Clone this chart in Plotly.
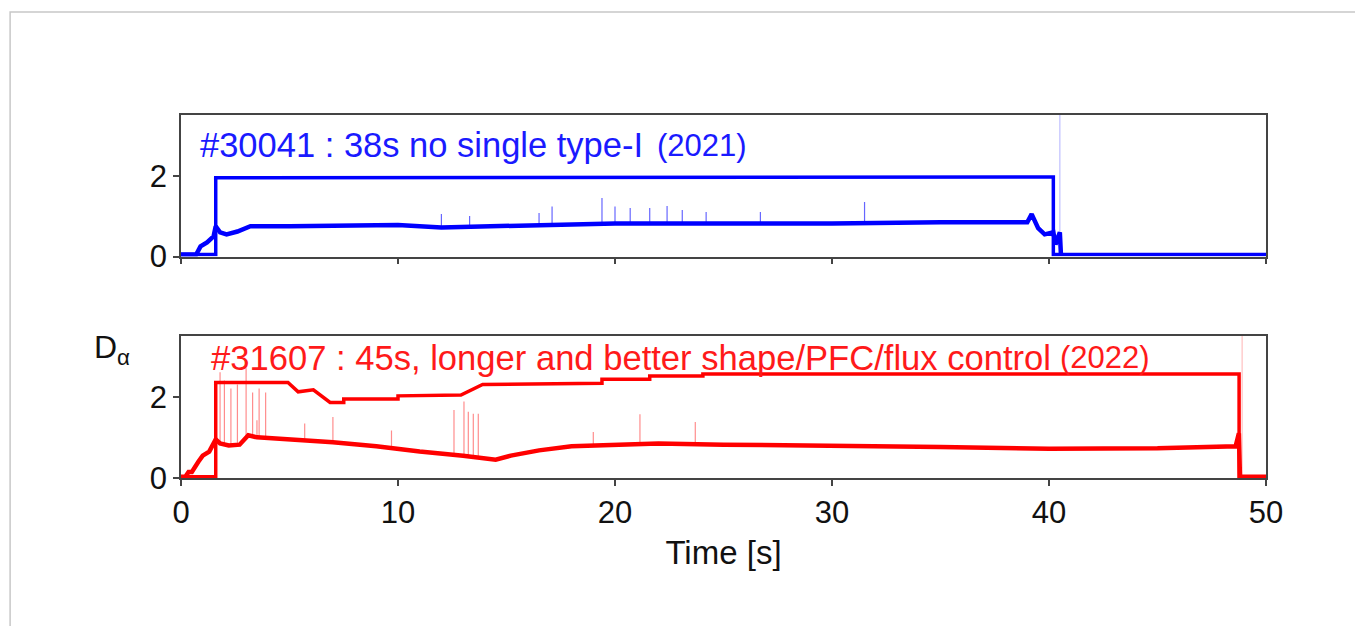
import plotly.graph_objects as go

# ---------------- data ----------------
# Top panel: shot #30041 (blue)
top_step_t = [0, 1.6, 1.6, 2.5, 2.5, 40.2, 40.2, 50]
top_step_v = [0.05, 0.05, 1.95, 1.95, 1.97, 1.97, 0.05, 0.05]

top_da_t = [0, 0.7, 0.9, 1.2, 1.5, 1.6, 1.8, 2.1, 2.6, 3.2, 5, 8, 10, 12, 15, 18, 20, 25, 30, 35,
            38.5, 39.0, 39.2, 39.5, 39.8, 40.2, 40.3, 40.45, 40.5, 40.55]
top_da_v = [0.05, 0.05, 0.25, 0.35, 0.5, 0.75, 0.6, 0.55, 0.62, 0.75, 0.75, 0.78, 0.78, 0.72, 0.75, 0.8, 0.82, 0.82, 0.82, 0.85,
            0.87, 0.85, 1.05, 0.7, 0.55, 0.6, 0.3, 0.55, 0.6, 0.05]

top_spike_t = [12.0, 13.3, 16.5, 17.1, 19.4, 20.0, 20.7, 21.6, 22.4, 23.1, 24.2, 26.7, 31.5]
top_spike_peak = [1.05, 1.0, 1.08, 1.24, 1.45, 1.24, 1.2, 1.2, 1.25, 1.15, 1.1, 1.1, 1.35]
top_spike_base = [0.72, 0.72, 0.76, 0.78, 0.8, 0.82, 0.82, 0.82, 0.82, 0.82, 0.82, 0.82, 0.83]

top_faint_t = [40.5]
top_faint_peak = [3.6]
top_faint_base = [0.6]

# Bottom panel: shot #31607 (red)
bot_step_t = [0, 1.6, 1.6, 4.93, 5.4, 6.1, 6.87, 7.5, 7.5, 10.0, 10.0, 12.9, 13.9, 19.4, 19.4,
              21.6, 21.6, 24.05, 24.05, 48.76, 48.76, 50]
bot_step_v = [0.03, 0.03, 2.35, 2.35, 2.12, 2.17, 1.86, 1.86, 1.94, 1.94, 2.02, 2.04, 2.3, 2.33, 2.43,
              2.43, 2.51, 2.51, 2.56, 2.56, 0.03, 0.03]

bot_da_t = [0, 0.2, 0.35, 0.5, 0.8, 1.0, 1.3, 1.6, 1.8, 2.2, 2.7, 3.1, 3.5, 5, 7, 9, 11, 13, 14.5,
            15.2, 16.5, 18, 20, 22, 25, 30, 35, 40, 45, 48.6, 48.75, 48.8, 50]
bot_da_v = [0.03, 0.03, 0.15, 0.15, 0.4, 0.55, 0.65, 0.95, 0.85, 0.8, 0.82, 1.05, 1.0, 0.95, 0.88, 0.78, 0.65, 0.55, 0.45,
            0.55, 0.68, 0.78, 0.82, 0.85, 0.82, 0.8, 0.76, 0.72, 0.73, 0.78, 1.1, 0.03, 0.03]

bot_spike_t = [1.8, 2.0, 2.3, 2.6, 3.0, 3.3, 3.6, 3.9, 3.5, 5.7, 7.0, 9.7,
               12.58, 13.04, 13.24, 13.47, 13.7, 19.0, 21.15, 23.7]
bot_spike_peak = [2.6, 2.4, 2.2, 2.3, 2.7, 2.1, 2.2, 2.1, 1.42, 1.34, 1.5, 1.17,
                  1.67, 1.88, 1.63, 1.58, 1.58, 1.13, 1.57, 1.38]
bot_spike_base = [0.85, 0.8, 0.8, 0.82, 1.0, 1.0, 1.0, 1.0, 1.0, 0.93, 0.88, 0.75,
                  0.58, 0.55, 0.53, 0.52, 0.5, 0.8, 0.84, 0.84]

bot_faint_t = [48.9]
bot_faint_peak = [3.6]
bot_faint_base = [0.03]

x_ticks = [0, 10, 20, 30, 40, 50]
y_ticks = [0, 2]

top_label = "#30041 : 38s no single type-I"
top_year = "(2021)"
bot_label = "#31607 : 45s, longer and better shape/PFC/flux control"
bot_year = "(2022)"

BLUE = "#0000ff"
RED = "#ff0000"


def spikes(ts, peaks, bases):
    xs, ys = [], []
    for t, p, b in zip(ts, peaks, bases):
        xs += [t, t, None]
        ys += [b, p, None]
    return xs, ys


fig = go.Figure()

# top panel traces
sx, sy = spikes(top_faint_t, top_faint_peak, top_faint_base)
fig.add_trace(go.Scatter(x=sx, y=sy, mode="lines", line=dict(color="rgba(0,0,255,0.25)", width=1.2),
                         xaxis="x2", yaxis="y2", hoverinfo="skip"))
sx, sy = spikes(top_spike_t, top_spike_peak, top_spike_base)
fig.add_trace(go.Scatter(x=sx, y=sy, mode="lines", line=dict(color="rgba(0,0,255,0.6)", width=1.2),
                         xaxis="x2", yaxis="y2", hoverinfo="skip"))
fig.add_trace(go.Scatter(x=top_da_t, y=top_da_v, mode="lines", line=dict(color=BLUE, width=4.5),
                         xaxis="x2", yaxis="y2"))
fig.add_trace(go.Scatter(x=top_step_t, y=top_step_v, mode="lines", line=dict(color=BLUE, width=3.5),
                         xaxis="x2", yaxis="y2"))

# bottom panel traces
sx, sy = spikes(bot_faint_t, bot_faint_peak, bot_faint_base)
fig.add_trace(go.Scatter(x=sx, y=sy, mode="lines", line=dict(color="rgba(255,0,0,0.25)", width=1.2),
                         xaxis="x", yaxis="y", hoverinfo="skip"))
sx, sy = spikes(bot_spike_t, bot_spike_peak, bot_spike_base)
fig.add_trace(go.Scatter(x=sx, y=sy, mode="lines", line=dict(color="rgba(255,0,0,0.45)", width=1.2),
                         xaxis="x", yaxis="y", hoverinfo="skip"))
fig.add_trace(go.Scatter(x=bot_da_t, y=bot_da_v, mode="lines", line=dict(color=RED, width=4.5),
                         xaxis="x", yaxis="y"))
fig.add_trace(go.Scatter(x=bot_step_t, y=bot_step_v, mode="lines", line=dict(color=RED, width=3.5),
                         xaxis="x", yaxis="y"))

FONT = "Liberation Sans, Arial, sans-serif"
axis_common = dict(showline=True, mirror=True, linecolor="#444", linewidth=1.5,
                   ticks="outside", ticklen=6, tickwidth=1.5, tickcolor="#444",
                   showgrid=False, zeroline=False,
                   tickfont=dict(family=FONT, size=31, color="#111"))

fig.update_layout(
    width=1363, height=626,
    margin=dict(l=173, r=105, t=107, b=156),
    paper_bgcolor="white", plot_bgcolor="white",
    showlegend=False,
    font=dict(family=FONT, color="#111"),
    xaxis=dict(domain=[0, 1], range=[0, 50], tickvals=x_ticks, anchor="y",
               title=dict(text="Time [s]", font=dict(family=FONT, size=33, color="#111"), standoff=12),
               ticklabelstandoff=0, **axis_common),
    yaxis=dict(domain=[0, 0.392], range=[0, 3.5], tickvals=y_ticks, anchor="x", **axis_common),
    xaxis2=dict(domain=[0, 1], range=[0, 50], tickvals=x_ticks, anchor="y2", showticklabels=False,
                **axis_common),
    yaxis2=dict(domain=[0.61, 1.0], range=[0, 3.5], tickvals=y_ticks, anchor="x2", **axis_common),
)

fig.add_annotation(text=top_label, xref="paper", yref="paper", x=0.016, y=0.917,
                   xanchor="left", yanchor="middle", showarrow=False,
                   font=dict(family=FONT, size=34.5, color="#1a1aff"))
fig.add_annotation(text=top_year, xref="paper", yref="paper", x=0.437, y=0.917,
                   xanchor="left", yanchor="middle", showarrow=False,
                   font=dict(family=FONT, size=31, color="#1a1aff"))
fig.add_annotation(text=bot_label, xref="paper", yref="paper", x=0.026, y=0.331,
                   xanchor="left", yanchor="middle", showarrow=False,
                   font=dict(family=FONT, size=34.6, color="#ff1a1a"))
fig.add_annotation(text=bot_year, xref="paper", yref="paper", x=0.808, y=0.333,
                   xanchor="left", yanchor="middle", showarrow=False,
                   font=dict(family=FONT, size=31, color="#ff1a1a"))
fig.add_annotation(text="D<sub>α</sub>", xref="paper", yref="paper", x=-0.082, y=0.355,
                   xanchor="left", yanchor="middle", showarrow=False,
                   font=dict(family=FONT, size=32, color="#111"))

# light outer frame of the figure panel
fig.add_shape(type="rect", xref="paper", yref="paper", x0=-0.1575, x1=1.1, y0=-0.5, y1=1.2837,
              line=dict(color="#c8c8c8", width=1.5), fillcolor="rgba(0,0,0,0)", layer="below")

fig.write_html("out.html")
